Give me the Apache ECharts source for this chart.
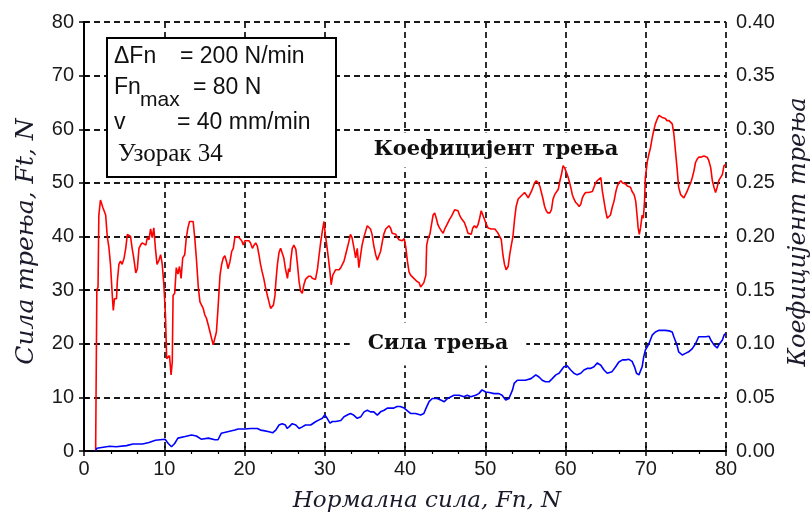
<!DOCTYPE html>
<html>
<head>
<meta charset="utf-8">
<script src="https://cdn.jsdelivr.net/npm/echarts@6/dist/echarts.min.js"></script>
<style>html,body{margin:0;padding:0;background:#fff}#c{width:812px;height:517px}</style>
</head>
<body>
<div id="c"></div>
<script>
// Normal force (x) and friction coefficient (right axis) for the red curve
const redFn = [1.45,1.5,1.6,1.75,1.85,2.05,2.35,2.7,2.9,3.1,3.3,3.55,3.65,3.8,4.05,4.15,4.35,4.55,4.75,5.0,5.2,5.4,5.6,5.8,6.0,6.2,6.45,6.65,6.85,7.05,7.25,7.45,7.7,7.9,8.1,8.3,8.5,8.7,8.9,9.1,9.35,9.55,9.75,9.95,10.15,10.3,10.45,10.65,10.85,11.0,11.1,11.3,11.5,11.7,11.9,12.1,12.3,12.55,12.75,12.95,13.15,13.35,13.6,13.8,14.0,14.25,14.45,14.65,14.85,15.05,15.25,15.5,15.7,15.9,16.1,16.3,16.5,16.7,16.95,17.15,17.35,17.55,17.75,17.95,18.2,18.4,18.6,18.8,19.0,19.2,19.4,19.65,19.85,20.05,20.25,20.55,20.75,20.98,21.2,21.4,21.6,21.8,22.0,22.2,22.4,22.6,22.85,23.05,23.25,23.45,23.6,23.8,23.9,24.1,24.3,24.5,24.7,24.9,25.1,25.35,25.5,25.65,25.75,25.95,26.15,26.4,26.6,26.8,27.0,27.2,27.4,27.6,27.8,28.0,28.25,28.45,28.65,28.85,29.1,29.3,29.5,29.7,29.9,30.05,30.25,30.45,30.65,30.8,31.0,31.15,31.35,31.55,31.8,32.0,32.2,32.4,32.6,32.8,33.0,33.2,33.4,33.65,33.85,34.05,34.25,34.45,34.65,34.9,35.1,35.3,35.5,35.7,35.9,36.1,36.35,36.55,36.75,36.95,37.15,37.35,37.6,37.8,38.0,38.2,38.4,38.6,38.85,39.05,39.25,39.45,39.65,39.9,40.1,40.3,40.5,40.7,40.9,41.1,41.3,41.5,41.75,41.95,42.15,42.35,42.6,42.7,42.9,43.1,43.3,43.5,43.7,43.9,44.1,44.3,44.55,44.75,44.95,45.15,45.35,45.55,45.8,46.0,46.2,46.4,46.6,46.8,47.0,47.2,47.4,47.65,47.85,48.05,48.25,48.45,48.65,48.9,49.1,49.3,49.5,49.7,49.9,50.15,50.35,50.55,50.75,50.95,51.2,51.4,51.6,51.8,52.0,52.2,52.4,52.6,52.85,53.05,53.25,53.45,53.65,53.85,54.1,54.3,54.5,54.7,54.9,55.1,55.35,55.55,55.75,55.95,56.15,56.35,56.6,56.8,57.0,57.2,57.4,57.6,57.8,58.05,58.25,58.45,58.65,58.85,59.1,59.3,59.5,59.7,59.9,60.1,60.3,60.45,60.65,60.85,61.05,61.25,61.5,61.7,61.9,62.1,62.3,62.5,62.7,62.9,63.1,63.35,63.55,63.75,63.95,64.15,64.4,64.6,64.8,65.0,65.2,65.4,65.6,65.85,66.05,66.25,66.45,66.65,66.9,67.1,67.3,67.5,67.7,67.9,68.1,68.3,68.55,68.75,68.95,69.05,69.2,69.35,69.55,69.7,69.85,69.95,70.2,70.4,70.6,70.8,71.0,71.2,71.45,71.65,71.85,72.05,72.25,72.45,72.65,72.9,73.1,73.3,73.5,73.7,73.9,74.1,74.35,74.55,74.75,74.95,75.15,75.35,75.6,75.8,76.0,76.2,76.4,76.6,76.85,77.05,77.25,77.45,77.65,77.85,78.1,78.3,78.5,78.7,78.9,79.1,79.3,79.55,79.75,79.95];
const redMu = [0,0.05,0.15,0.153,0.22,0.234,0.227,0.22,0.2,0.19,0.174,0.142,0.131,0.142,0.142,0.158,0.174,0.177,0.174,0.18,0.189,0.202,0.203,0.2,0.189,0.18,0.166,0.17,0.189,0.192,0.194,0.195,0.192,0.199,0.197,0.207,0.199,0.208,0.189,0.174,0.178,0.183,0.174,0.155,0.127,0.086,0.085,0.089,0.071,0.083,0.145,0.147,0.171,0.165,0.172,0.161,0.18,0.183,0.199,0.208,0.214,0.215,0.214,0.199,0.18,0.152,0.139,0.136,0.133,0.127,0.124,0.117,0.111,0.105,0.099,0.099,0.111,0.133,0.164,0.174,0.18,0.182,0.177,0.17,0.177,0.186,0.189,0.199,0.2,0.2,0.199,0.196,0.192,0.196,0.195,0.196,0.194,0.189,0.192,0.194,0.191,0.183,0.174,0.167,0.161,0.153,0.145,0.139,0.133,0.133,0.136,0.145,0.157,0.174,0.185,0.189,0.188,0.18,0.17,0.161,0.17,0.167,0.177,0.189,0.192,0.188,0.174,0.158,0.149,0.147,0.155,0.16,0.16,0.163,0.163,0.161,0.161,0.16,0.17,0.183,0.195,0.205,0.214,0.203,0.192,0.18,0.167,0.155,0.164,0.166,0.169,0.169,0.169,0.171,0.172,0.177,0.183,0.189,0.195,0.202,0.199,0.189,0.18,0.189,0.171,0.172,0.192,0.2,0.205,0.21,0.211,0.207,0.202,0.192,0.183,0.178,0.182,0.186,0.194,0.202,0.207,0.207,0.21,0.208,0.203,0.202,0.202,0.199,0.197,0.197,0.196,0.198,0.19,0.177,0.167,0.164,0.163,0.161,0.16,0.158,0.157,0.153,0.152,0.157,0.164,0.192,0.199,0.202,0.211,0.22,0.222,0.217,0.211,0.208,0.205,0.203,0.207,0.21,0.213,0.216,0.219,0.222,0.225,0.225,0.224,0.22,0.217,0.216,0.213,0.208,0.203,0.203,0.202,0.208,0.21,0.208,0.211,0.217,0.224,0.22,0.216,0.211,0.208,0.207,0.207,0.207,0.207,0.205,0.203,0.202,0.197,0.183,0.174,0.169,0.172,0.183,0.192,0.2,0.216,0.228,0.235,0.236,0.238,0.239,0.241,0.239,0.236,0.239,0.242,0.246,0.25,0.252,0.25,0.247,0.241,0.235,0.228,0.224,0.222,0.222,0.225,0.235,0.239,0.239,0.244,0.252,0.258,0.266,0.264,0.26,0.256,0.252,0.246,0.239,0.235,0.232,0.23,0.228,0.23,0.236,0.239,0.241,0.241,0.241,0.242,0.242,0.242,0.25,0.252,0.253,0.255,0.242,0.233,0.224,0.217,0.216,0.22,0.228,0.233,0.241,0.247,0.25,0.252,0.25,0.249,0.249,0.247,0.246,0.246,0.242,0.239,0.233,0.217,0.208,0.202,0.208,0.22,0.217,0.233,0.255,0.27,0.277,0.283,0.292,0.299,0.305,0.31,0.313,0.313,0.311,0.311,0.31,0.308,0.308,0.307,0.305,0.296,0.28,0.264,0.246,0.239,0.238,0.236,0.239,0.242,0.246,0.25,0.255,0.261,0.269,0.272,0.274,0.274,0.275,0.275,0.274,0.274,0.271,0.264,0.252,0.246,0.241,0.246,0.252,0.253,0.258,0.266,0.267];
// Normal force (x) and friction force Ft (left axis) for the blue curve
const blueFn = [1.45,1.6,2.4,3.2,4.0,5.3,6.1,7.3,8.1,8.9,10.1,10.5,10.9,11.3,11.7,12.6,13.4,14.0,14.6,15.5,16.3,16.7,17.1,17.9,18.8,19.2,20.0,20.8,21.6,22.0,22.4,23.05,23.5,23.9,24.3,24.7,25.1,25.3,25.55,25.95,26.4,26.8,27.2,27.6,28.25,28.9,29.3,29.7,30.0,30.3,30.65,30.95,31.35,32.0,32.4,32.8,33.2,33.6,34.05,34.5,34.9,35.3,35.7,36.1,36.55,36.95,37.4,37.8,38.2,38.6,39.0,39.4,39.9,40.3,40.7,41.3,41.95,42.35,42.6,43.0,43.4,44.0,44.45,44.9,45.3,46.1,46.75,47.35,47.75,48.2,48.8,49.2,49.6,50.05,50.5,51.1,51.7,52.1,52.55,52.95,53.4,53.6,54.0,54.4,55.0,55.7,56.3,56.7,57.1,57.5,57.95,58.35,58.8,59.2,59.4,59.8,60.2,60.65,61.05,61.45,61.9,62.3,62.7,63.1,63.55,63.95,64.4,64.8,65.2,65.4,65.8,66.25,66.65,67.1,67.5,67.9,68.3,68.6,68.85,69.15,69.35,69.55,69.75,69.95,70.4,70.8,71.2,71.65,72.05,72.45,72.9,73.3,73.5,73.9,74.1,74.55,74.95,75.35,75.8,76.2,76.6,77.05,77.45,77.9,78.1,78.5,78.9,79.1,79.55,79.75,79.95];
const blueFt = [0,0.5,0.7,0.9,0.8,1.0,1.3,1.3,1.6,2.0,2.2,1.4,0.8,1.4,2.4,2.7,3.0,2.8,2.2,2.4,2.1,2.1,3.3,3.6,3.9,4.1,4.1,4.2,4.2,3.9,3.8,3.6,3.4,3.9,4.85,5.1,4.85,4.2,4.5,5.1,4.85,4.2,4.5,4.85,4.85,5.5,5.8,6.1,6.7,6.1,5.2,5.5,5.5,5.7,6.4,6.7,7.0,6.7,6.1,6.4,7.3,7.6,7.3,7.3,6.7,7.3,7.6,8.0,8.0,8.0,8.3,8.3,8.0,7.5,7.0,7.0,6.7,7.0,7.9,9.2,9.8,9.8,9.5,9.2,9.8,10.4,10.4,10.1,10.4,10.1,10.4,10.7,11.4,11.0,10.9,10.7,10.7,10.4,9.5,9.8,11.4,12.6,13.2,13.2,13.2,13.5,14.2,13.8,13.2,12.9,12.9,13.5,14.2,14.5,14.8,15.7,15.9,15.1,14.5,14.2,14.5,15.1,15.4,15.4,15.7,16.4,16.0,15.1,14.5,14.2,14.8,15.7,16.6,17.0,17.0,17.1,16.7,15.7,14.5,14.2,14.5,15.7,17.6,18.8,20.0,21.6,22.2,22.5,22.5,22.5,22.4,22.2,21.3,19.7,18.5,17.9,18.2,18.5,19.1,20.0,21.3,21.3,21.3,21.4,20.7,19.8,19.2,19.8,20.7,21.6,21.9];
const xTicks = {min: 0, max: 80, step: 10};
const ftTicks = {min: 0, max: 80, step: 10};
const muTicks = {min: 0, max: 0.4, step: 0.05};

const redData = redFn.map((x, i) => [x, redMu[i]]);
const blueData = blueFn.map((x, i) => [x, blueFt[i]]);

const sans = '"Liberation Sans", Arial, sans-serif';
const serif = '"DejaVu Serif", "Liberation Serif", serif';
const grid = {type: [6, 4], width: 1.8, color: '#1a1a1a'};
const tickLabel = {fontFamily: sans, fontSize: 20, color: '#1a1a1a'};
const axisLine = {show: true, lineStyle: {color: '#000', width: 2}};

const chart = echarts.init(document.getElementById('c'), null, {renderer: 'canvas'});
chart.setOption({
  animation: false,
  backgroundColor: '#fff',
  grid: {left: 84, right: 86, top: 22, bottom: 66, outerBoundsMode: 'none', containLabel: false},
  xAxis: [{
    type: 'value', position: 'bottom', min: xTicks.min, max: xTicks.max, interval: xTicks.step,
    axisLine: axisLine,
    axisTick: {inside: true, length: 5, lineStyle: {color: '#000', width: 1.5}},
    axisLabel: Object.assign({margin: 8}, tickLabel),
    splitLine: {show: true, lineStyle: grid},
    name: 'Нормална сила, Fn, N', nameLocation: 'middle', nameGap: 39,
    nameTextStyle: {fontFamily: serif, fontStyle: 'italic', fontSize: 23, color: '#1a1a2a', padding: [0, 0, 0, 44]}
  }, {
    type: 'value', position: 'top', min: xTicks.min, max: xTicks.max, interval: xTicks.step,
    axisLine: axisLine,
    axisTick: {inside: true, length: 5, lineStyle: {color: '#000', width: 1.5}},
    minorTick: {show: true, splitNumber: 3, length: 3, lineStyle: {color: '#000', width: 1.2}},
    axisLabel: {show: false}, splitLine: {show: false}
  }],
  yAxis: [{
    type: 'value', position: 'left', min: ftTicks.min, max: ftTicks.max, interval: ftTicks.step,
    axisLine: axisLine,
    axisTick: {inside: true, length: 5, lineStyle: {color: '#000', width: 1.5}},
    axisLabel: Object.assign({margin: 10}, tickLabel),
    splitLine: {show: true, lineStyle: grid},
    name: 'Сила трења, Ft, N', nameLocation: 'middle', nameGap: 45, nameRotate: 90,
    nameTextStyle: {fontFamily: serif, fontStyle: 'italic', fontSize: 25, color: '#1a1a2a', padding: [0, 10, 0, 0]}
  }, {
    type: 'value', position: 'right', min: muTicks.min, max: muTicks.max, interval: muTicks.step,
    axisLine: axisLine,
    axisTick: {inside: true, length: 5, lineStyle: {color: '#000', width: 1.5}},
    axisLabel: Object.assign({margin: 10, formatter: v => v.toFixed(2)}, tickLabel),
    splitLine: {show: false},
    name: 'Коефицијент трења', nameLocation: 'middle', nameGap: 61, nameRotate: 90,
    nameTextStyle: {fontFamily: serif, fontStyle: 'italic', fontSize: 24, color: '#1a1a2a', padding: [0, 0, 0, 9]}
  }],
  series: [{
    name: 'Коефицијент трења', type: 'line', xAxisIndex: 0, yAxisIndex: 1, data: redData,
    showSymbol: false, lineStyle: {color: '#ff0000', width: 1.6}, z: 3
  }, {
    name: 'Сила трења', type: 'line', xAxisIndex: 0, yAxisIndex: 0, data: blueData,
    showSymbol: false, lineStyle: {color: '#0000ff', width: 1.6}, z: 3
  }],
  graphic: [
    {type: 'text', z: 1, x: 496, y: 150, style: {text: 'Коефицијент трења', fontFamily: serif, fontWeight: 'bold', fontSize: 21, fill: '#111', align: 'center', verticalAlign: 'middle', backgroundColor: '#fff', padding: [7, 6]}},
    {type: 'text', z: 1, x: 438, y: 344, style: {text: 'Сила трења', fontFamily: serif, fontWeight: 'bold', fontSize: 20.5, fill: '#111', align: 'center', verticalAlign: 'middle', backgroundColor: '#fff', padding: [11, 18]}},
    {type: 'rect', z: 100, shape: {x: 107, y: 38, width: 229, height: 139}, style: {fill: '#fff', stroke: '#000', lineWidth: 2}},
    {type: 'text', z: 101, x: 114, y: 57, style: {text: 'ΔFn', fontFamily: sans, fontSize: 23, fill: '#111', verticalAlign: 'middle'}},
    {type: 'text', z: 101, x: 180, y: 57, style: {text: '= 200 N/min', fontFamily: sans, fontSize: 23, fill: '#111', verticalAlign: 'middle'}},
    {type: 'text', z: 101, x: 114, y: 88, style: {text: 'Fn', fontFamily: sans, fontSize: 23, fill: '#111', verticalAlign: 'middle'}},
    {type: 'text', z: 101, x: 140, y: 100, style: {text: 'max', fontFamily: sans, fontSize: 21, fill: '#111', verticalAlign: 'middle'}},
    {type: 'text', z: 101, x: 193, y: 88, style: {text: '= 80 N', fontFamily: sans, fontSize: 23, fill: '#111', verticalAlign: 'middle'}},
    {type: 'text', z: 101, x: 114, y: 123, style: {text: 'v', fontFamily: sans, fontSize: 23, fill: '#111', verticalAlign: 'middle'}},
    {type: 'text', z: 101, x: 177, y: 123, style: {text: '= 40 mm/min', fontFamily: sans, fontSize: 23, fill: '#111', verticalAlign: 'middle'}},
    {type: 'text', z: 101, x: 118, y: 154, style: {text: 'Узорак 34', fontFamily: '"Liberation Serif", serif', fontSize: 25, fill: '#111', verticalAlign: 'middle'}}
  ]
});
</script>
</body>
</html>
